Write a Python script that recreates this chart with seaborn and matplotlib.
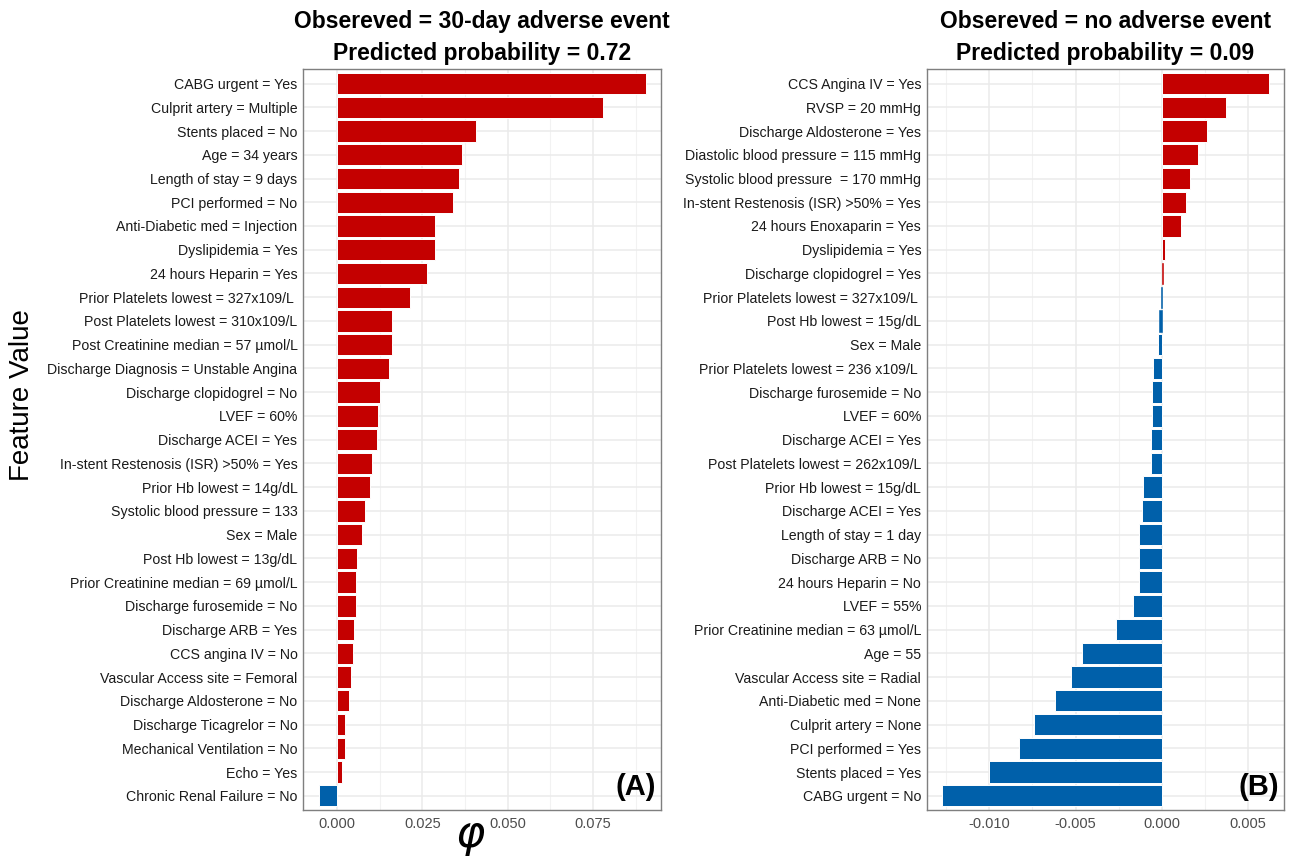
import numpy as np
import pandas as pd
import matplotlib
matplotlib.use("Agg")
import matplotlib.pyplot as plt
from matplotlib import font_manager
from matplotlib.ticker import MultipleLocator
import seaborn as sns

# panel A: observed 30-day adverse event
labels_a = [
    "CABG urgent = Yes", "Culprit artery = Multiple", "Stents placed = No",
    "Age = 34 years", "Length of stay = 9 days", "PCI performed = No",
    "Anti-Diabetic med = Injection", "Dyslipidemia = Yes", "24 hours Heparin = Yes",
    "Prior Platelets lowest = 327x109/L ", "Post Platelets lowest = 310x109/L",
    "Post Creatinine median = 57 \u00b5mol/L", "Discharge Diagnosis = Unstable Angina",
    "Discharge clopidogrel = No", "LVEF = 60%", "Discharge ACEI = Yes",
    "In-stent Restenosis (ISR) >50% = Yes", "Prior Hb lowest = 14g/dL",
    "Systolic blood pressure = 133", "Sex = Male", "Post Hb lowest = 13g/dL",
    "Prior Creatinine median = 69 \u00b5mol/L", "Discharge furosemide = No",
    "Discharge ARB = Yes", "CCS angina IV = No", "Vascular Access site = Femoral",
    "Discharge Aldosterone = No", "Discharge Ticagrelor = No",
    "Mechanical Ventilation = No", "Echo = Yes", "Chronic Renal Failure = No",
]
phi_a = [
    0.0904, 0.0778, 0.0406, 0.0367, 0.0357, 0.0339, 0.0288, 0.0286, 0.0265,
    0.0213, 0.0162, 0.0161, 0.0153, 0.0126, 0.0120, 0.0117, 0.0102, 0.0098,
    0.0083, 0.0073, 0.0059, 0.0055, 0.0055, 0.0051, 0.0048, 0.0040, 0.0034,
    0.0024, 0.0023, 0.0015, -0.0052,
]

# panel B: observed no adverse event
labels_b = [
    "CCS Angina IV = Yes", "RVSP = 20 mmHg", "Discharge Aldosterone = Yes",
    "Diastolic blood pressure = 115 mmHg", "Systolic blood pressure  = 170 mmHg",
    "In-stent Restenosis (ISR) >50% = Yes", "24 hours Enoxaparin = Yes",
    "Dyslipidemia = Yes", "Discharge clopidogrel = Yes",
    "Prior Platelets lowest = 327x109/L ", "Post Hb lowest = 15g/dL", "Sex = Male",
    "Prior Platelets lowest = 236 x109/L ", "Discharge furosemide = No",
    "LVEF = 60%", "Discharge ACEI = Yes", "Post Platelets lowest = 262x109/L",
    "Prior Hb lowest = 15g/dL", "Discharge ACEI = Yes", "Length of stay = 1 day",
    "Discharge ARB = No", "24 hours Heparin = No", "LVEF = 55%",
    "Prior Creatinine median = 63 \u00b5mol/L", "Age = 55",
    "Vascular Access site = Radial", "Anti-Diabetic med = None",
    "Culprit artery = None", "PCI performed = Yes", "Stents placed = Yes",
    "CABG urgent = No",
]
phi_b = [
    0.0062, 0.0037, 0.0026, 0.0021, 0.0016, 0.0014, 0.0011, 0.0002, 0.00006,
    -0.00007, -0.00017, -0.0002, -0.0005, -0.00055, -0.00055, -0.00062,
    -0.00065, -0.00108, -0.00116, -0.00131, -0.00133, -0.00135, -0.00166,
    -0.00267, -0.00464, -0.00527, -0.00618, -0.0074, -0.0083, -0.01004, -0.01273,
]

RED = "#C40000"
BLUE = "#0060AA"

sns.set_theme(style="white")
names = {f.name for f in font_manager.fontManager.ttflist}
base_font = "Liberation Sans" if "Liberation Sans" in names else "DejaVu Sans"
plt.rcParams["font.family"] = [base_font, "DejaVu Sans"]
plt.rcParams["text.color"] = "black"

fig = plt.figure(figsize=(12.93, 8.60), dpi=100)
W, H = 1293, 860
top, bottom = 69.3, 810
ax_a = fig.add_axes([303 / W, 1 - bottom / H, (661 - 303) / W, (bottom - top) / H])
ax_b = fig.add_axes([926.7 / W, 1 - bottom / H, (1284.3 - 926.7) / W, (bottom - top) / H])


def draw_panel(ax, labels, phi, title, tag, xlim, major, minor):
    df = pd.DataFrame({
        "row": [str(i) for i in range(len(labels))],
        "phi": phi,
        "sign": ["pos" if v >= 0 else "neg" for v in phi],
    })
    sns.barplot(data=df, x="phi", y="row", hue="sign", order=df["row"],
                palette={"pos": RED, "neg": BLUE}, dodge=False, orient="h",
                width=0.9, saturation=1, edgecolor="white", linewidth=0.7,
                legend=False, ax=ax)
    ax.set_xlim(*xlim)
    # very thin bars would vanish under the white outline
    px_per_unit = ax.bbox.width / (xlim[1] - xlim[0])
    for p in ax.patches:
        if abs(p.get_width()) * px_per_unit < 3:
            p.set_edgecolor(p.get_facecolor())
            p.set_linewidth(0.4)
    ax.set_yticks(range(len(labels)))
    ax.set_yticklabels(labels, fontsize=10.2, color="#1a1a1a")
    ax.set_ylim(len(labels) - 0.4, -0.6)
    ax.xaxis.set_major_locator(MultipleLocator(major))
    ax.xaxis.set_minor_locator(MultipleLocator(minor))
    ax.xaxis.set_major_formatter(matplotlib.ticker.FormatStrFormatter("%.3f"))
    ax.tick_params(axis="x", labelsize=10.5, labelcolor="#4D4D4D", length=3,
                   color="#333333", width=0.8, pad=2)
    ax.tick_params(axis="x", which="minor", length=0)
    ax.tick_params(axis="y", length=3, color="#333333", width=0.8, pad=1)
    ax.set_axisbelow(True)
    ax.grid(True, which="major", axis="both", color="#EBEBEB", linewidth=1.1)
    ax.grid(True, which="minor", axis="x", color="#F2F2F2", linewidth=0.8)
    for s in ax.spines.values():
        s.set_visible(True)
        s.set_color("#7F7F7F")
        s.set_linewidth(1.0)
    ax.set_xlabel("")
    ax.set_ylabel("")
    ax.set_title(title, fontsize=16.5, fontweight="bold", color="black",
                 pad=7, linespacing=1.45)
    ax.text(0.985, 0.012, tag, transform=ax.transAxes, ha="right", va="bottom",
            fontsize=21, fontweight="bold", color="black")


draw_panel(ax_a, labels_a, phi_a,
           "Obsereved = 30-day adverse event\nPredicted probability = 0.72", "(A)",
           (-0.00996, 0.0949), 0.025, 0.0125)
draw_panel(ax_b, labels_b, phi_b,
           "Obsereved = no adverse event\nPredicted probability = 0.09", "(B)",
           (-0.01363, 0.00709), 0.005, 0.0025)

fig.text(22 / W, 1 - 395 / H, "Feature Value", rotation=90, ha="center", va="center",
         fontsize=20, color="black")
fig.text(470 / W, 1 - 838 / H, r"$\varphi$", ha="center", va="center", fontsize=32,
         color="black")

fig.savefig("out.png", dpi=100)
